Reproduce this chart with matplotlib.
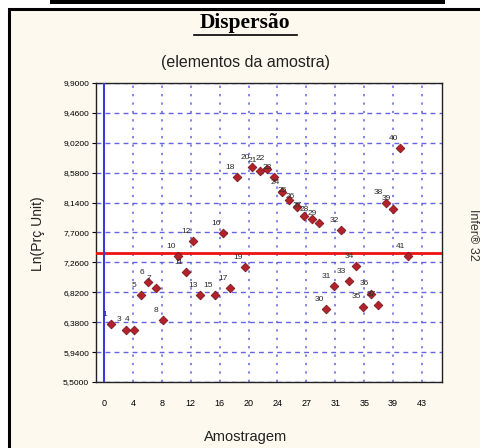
import matplotlib

matplotlib.use("Agg")

import matplotlib.pyplot as plt
from matplotlib.lines import Line2D
from matplotlib.patches import Rectangle

# sample number and Ln(unit price) of each point
sample_ids = [1, 3, 4, 5, 6, 7, 8, 10, 11, 12, 13, 15, 16, 17, 18, 19,
              20, 21, 22, 23, 24, 25, 26, 27, 28, 29, 30, 31, 32, 33, 34,
              35, 36, 37, 38, 39, 40, 41]
ln_price = [6.35, 6.27, 6.27, 6.78, 6.97, 6.88, 6.41, 7.35, 7.12, 7.57, 6.78,
            6.78, 7.69, 6.88, 8.51, 7.19, 8.66, 8.61, 8.64, 8.51, 8.30, 8.18,
            8.08, 7.95, 7.90, 7.84, 6.57, 6.91, 7.74, 6.99, 7.20, 6.61, 6.80,
            6.64, 8.14, 8.05, 8.94, 7.35]
mean_line = 7.40

y_ticks = [5.50, 5.94, 6.38, 6.82, 7.26, 7.70, 8.14, 8.58, 9.02, 9.46, 9.90]
y_tick_labels = ["5,5000", "5,9400", "6,3800", "6,8200", "7,2600", "7,7000",
                 "8,1400", "8,5800", "9,0200", "9,4600", "9,9000"]
x_ticks = [0, 3.9, 7.8, 11.7, 15.6, 19.5, 23.4, 27.3, 31.2, 35.1, 39.0, 42.9]
x_tick_labels = ["0", "4", "8", "12", "16", "20", "24", "27", "31", "35", "39", "43"]

cream = "#fdf9ee"
grid_blue = "#6464e0"

fig = plt.figure(figsize=(4.8, 4.48), dpi=100)
fig.patch.set_facecolor("white")

# outer frame of the original report page
fig.add_artist(Rectangle((9 / 480, -0.05), 1.0, (448 - 9) / 448 + 0.05,
                         transform=fig.transFigure, facecolor=cream,
                         edgecolor="black", linewidth=2.2, zorder=0))
fig.add_artist(Rectangle((50 / 480, 1 - 4 / 448), 395 / 480, 4 / 448,
                         transform=fig.transFigure, facecolor="black",
                         edgecolor="none", zorder=1))

ax = fig.add_axes([96 / 480, 66 / 448, 346 / 480, 299 / 448])
ax.set_facecolor("white")

ax.scatter(sample_ids, ln_price, marker="D", s=20, color="#b3222a",
           edgecolors="#6e0f15", linewidths=0.5, zorder=4)
for sid, val in zip(sample_ids, ln_price):
    ax.annotate(str(sid), (sid, val), xytext=(-5, 7), textcoords="offset points",
                ha="center", va="center", fontsize=6, color="#2a2a2a",
                family="Liberation Sans", zorder=5)

ax.axhline(mean_line, color="#ee1111", linewidth=2, zorder=3)
ax.axvline(0, color="#3a3ae0", linewidth=1.5, zorder=3)

ax.set_xlim(-1.08, 45.6)
ax.set_ylim(5.5, 9.9)
ax.set_yticks(y_ticks)
ax.set_yticklabels(y_tick_labels, fontsize=6, family="Liberation Sans")
ax.set_xticks(x_ticks)
ax.set_xticklabels(x_tick_labels, fontsize=6.5, family="Liberation Sans")
ax.tick_params(axis="y", length=3, width=0.8, pad=2)
ax.tick_params(axis="x", length=0, pad=12)

ax.xaxis.grid(True, color=grid_blue, linestyle=(0, (1.5, 4)), linewidth=1.1)
ax.yaxis.grid(True, color=grid_blue, linestyle=(0, (3.5, 3)), linewidth=1.0)
ax.set_axisbelow(True)
for sp in ax.spines.values():
    sp.set_color("#222222")
    sp.set_linewidth(1)

# titles and axis captions
fig.text(245 / 480, 1 - 23 / 448, "Dispers\u00e3o", ha="center", va="center",
         fontsize=15.5, fontweight="bold", family="Liberation Serif")
fig.add_artist(Line2D([194 / 480, 297 / 480], [1 - 35 / 448, 1 - 35 / 448],
                      transform=fig.transFigure, color="black", linewidth=1.2))
fig.text(246 / 480, 1 - 63 / 448, "(elementos da amostra)", ha="center",
         va="center", fontsize=11.5, family="Liberation Sans", color="#222222")
fig.text(38 / 480, 1 - 234 / 448, "Ln(Pr\u00e7 Unit)", ha="center", va="center",
         rotation=90, fontsize=10, family="Liberation Sans", color="#222222")
fig.text(246 / 480, 1 - 437 / 448, "Amostragem", ha="center", va="center",
         fontsize=10.5, family="Liberation Sans", color="#222222")
fig.text(473 / 480, 1 - 235 / 448, "Infer\u00ae 32", ha="center", va="center",
         rotation=-90, fontsize=9, family="Liberation Sans", color="#333333")

fig.savefig("out.png", dpi=100)
